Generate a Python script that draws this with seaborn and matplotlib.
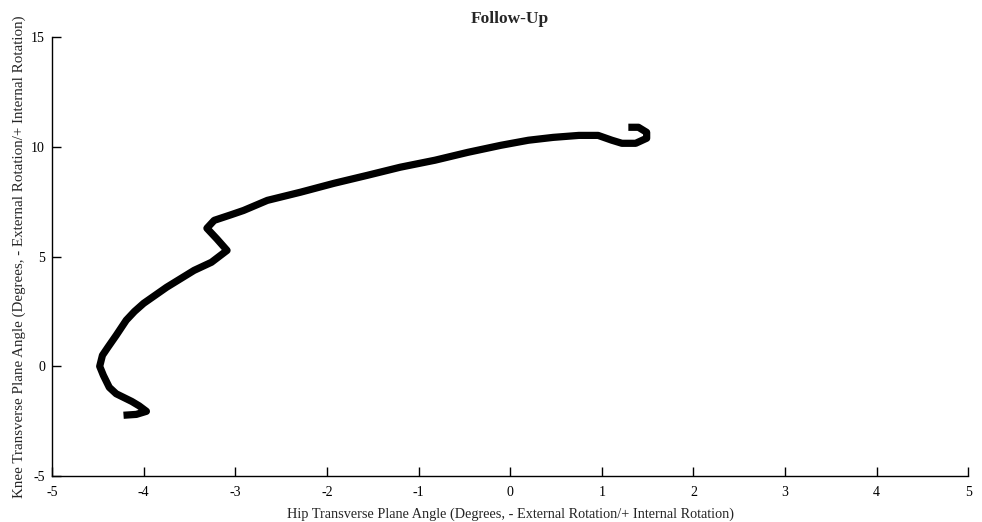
import matplotlib
matplotlib.use("Agg")
import matplotlib.pyplot as plt
import seaborn as sns
import pandas as pd

hip = [-4.22, -4.08, -3.97, -4.05, -4.13, -4.30, -4.375, -4.44, -4.48, -4.45, -4.39, -4.30, -4.19, -4.10, -4.0,
       -3.75, -3.45, -3.26, -3.09, -3.20, -3.31, -3.23, -3.05, -2.91, -2.65, -2.29, -1.92, -1.56, -1.20,
       -0.82, -0.46, -0.10, 0.20, 0.47, 0.75, 0.96, 1.11, 1.22, 1.37, 1.49, 1.49, 1.40, 1.29]
knee = [-2.23, -2.19, -2.05, -1.80, -1.6, -1.25, -0.96, -0.41, 0.0, 0.5, 0.87, 1.41, 2.10, 2.50, 2.87,
        3.6, 4.37, 4.74, 5.28, 5.80, 6.29, 6.65, 6.90, 7.1, 7.56, 7.93, 8.34, 8.70, 9.07,
        9.39, 9.75, 10.07, 10.30, 10.43, 10.52, 10.52, 10.30, 10.16, 10.16, 10.39, 10.66, 10.89, 10.89]
xticks = [-5, -4, -3, -2, -1, 0, 1, 2, 3, 4, 5]
yticks = [-5, 0, 5, 10, 15]

sns.set_style("ticks")
plt.rcParams['font.family'] = ['Liberation Serif', 'DejaVu Serif']
plt.rcParams['axes.unicode_minus'] = False
plt.rcParams['xtick.direction'] = 'in'
plt.rcParams['ytick.direction'] = 'in'

df = pd.DataFrame({"hip": hip, "knee": knee})

fig = plt.figure(figsize=(9.82, 5.22), dpi=100)
ax = fig.add_axes([0.053, 0.088, 0.933, 0.841])
sns.lineplot(data=df, x="hip", y="knee", sort=False, estimator=None, color="black",
             linewidth=5.2, ax=ax, solid_capstyle="butt", solid_joinstyle="round")
ax.set_xlim(-5, 5)
ax.set_ylim(-5, 15)
ax.set_xticks(xticks)
ax.set_yticks(yticks)
ax.tick_params(direction="in", length=6.5, width=1, labelsize=10, colors="black")
ax.tick_params(axis="x", pad=7)
ax.tick_params(axis="y", pad=5)
for s in ["top", "right"]:
    ax.spines[s].set_visible(False)
for s in ["left", "bottom"]:
    ax.spines[s].set_linewidth(1)
    ax.spines[s].set_color("black")
ax.set_title("Follow-Up", fontsize=12.5, fontweight="bold", pad=10)
ax.set_xlabel("Hip Transverse Plane Angle (Degrees, - External Rotation/+ Internal Rotation)", fontsize=10.3, labelpad=6)
ax.set_ylabel("Knee Transverse Plane Angle (Degrees, - External Rotation/+ Internal Rotation)", fontsize=10.8)
ax.yaxis.set_label_coords(-0.028, 0.5)
fig.savefig("out.png", dpi=100)
